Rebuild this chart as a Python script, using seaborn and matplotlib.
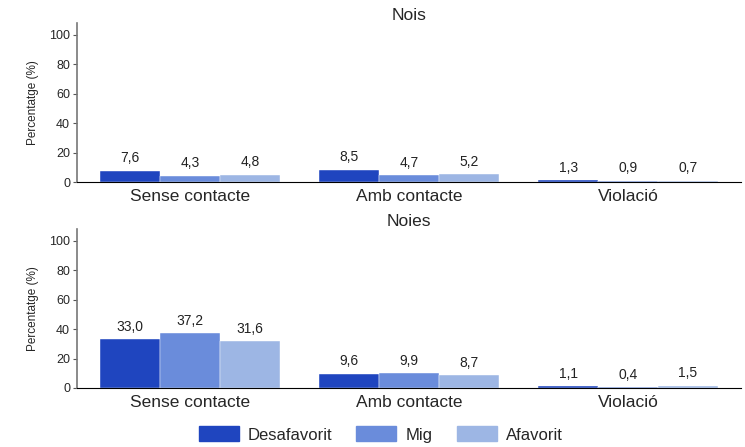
import numpy as np
import pandas as pd
import seaborn as sns
from matplotlib import pyplot as plt

categories = ["Sense contacte", "Amb contacte", "Violació"]
groups = ["Desafavorit", "Mig", "Afavorit"]
nois = {
    "Desafavorit": [7.6, 8.5, 1.3],
    "Mig": [4.3, 4.7, 0.9],
    "Afavorit": [4.8, 5.2, 0.7],
}
noies = {
    "Desafavorit": [33.0, 9.6, 1.1],
    "Mig": [37.2, 9.9, 0.4],
    "Afavorit": [31.6, 8.7, 1.5],
}
colors = ["#1f45bf", "#6a8cdb", "#9db6e4"]

sns.set_style("white")
plt.rcParams['font.family'] = ['Liberation Sans', 'DejaVu Sans']


def to_long(d):
    rows = []
    for g in groups:
        for c, v in zip(categories, d[g]):
            rows.append({"cat": c, "grup": g, "val": v})
    return pd.DataFrame(rows)


fig = plt.figure(figsize=(7.45, 4.47), dpi=100)
ax1 = fig.add_axes([0.1034, 0.5928, 0.8912, 0.3557])
ax2 = fig.add_axes([0.1034, 0.1320, 0.8912, 0.3557])

for ax, d, title in [(ax1, nois, "Nois"), (ax2, noies, "Noies")]:
    df = to_long(d)
    sns.barplot(data=df, x="cat", y="val", hue="grup", order=categories,
                hue_order=groups, palette=colors, saturation=1, width=0.82, ax=ax,
                edgecolor="white", linewidth=0.3, legend=False)
    for cont in ax.containers:
        ax.bar_label(cont, labels=[f"{b.get_height():.1f}".replace(".", ",") for b in cont],
                     padding=4, fontsize=10, color="#222222")
    ax.set_xlim(-0.516, 2.516)
    ax.set_ylim(0, 108)
    ax.set_yticks([0, 20, 40, 60, 80, 100])
    ax.tick_params(axis="y", labelsize=9, length=3, width=0.8, color="#555555", pad=2, left=True)
    ax.tick_params(axis="x", labelsize=12.5, length=0, pad=5)
    ax.set_xlabel("")
    ax.set_ylabel("Percentatge (%)", fontsize=8.5, labelpad=7)
    ax.set_title(title, fontsize=12.5, pad=2)
    sns.despine(ax=ax)
    ax.spines["left"].set_color("#777777")
    ax.spines["left"].set_linewidth(1.2)
    ax.spines["bottom"].set_color("black")
    ax.spines["bottom"].set_linewidth(0.8)

handles = [plt.Rectangle((0, 0), 1, 1, color=c) for c in colors]
fig.legend(handles, groups, loc="center", bbox_to_anchor=(0.511, 0.028), ncol=3,
           frameon=False, fontsize=12, handlelength=2.4, handleheight=1.0,
           columnspacing=1.45, handletextpad=0.55)

fig.savefig("out.png", dpi=100)
